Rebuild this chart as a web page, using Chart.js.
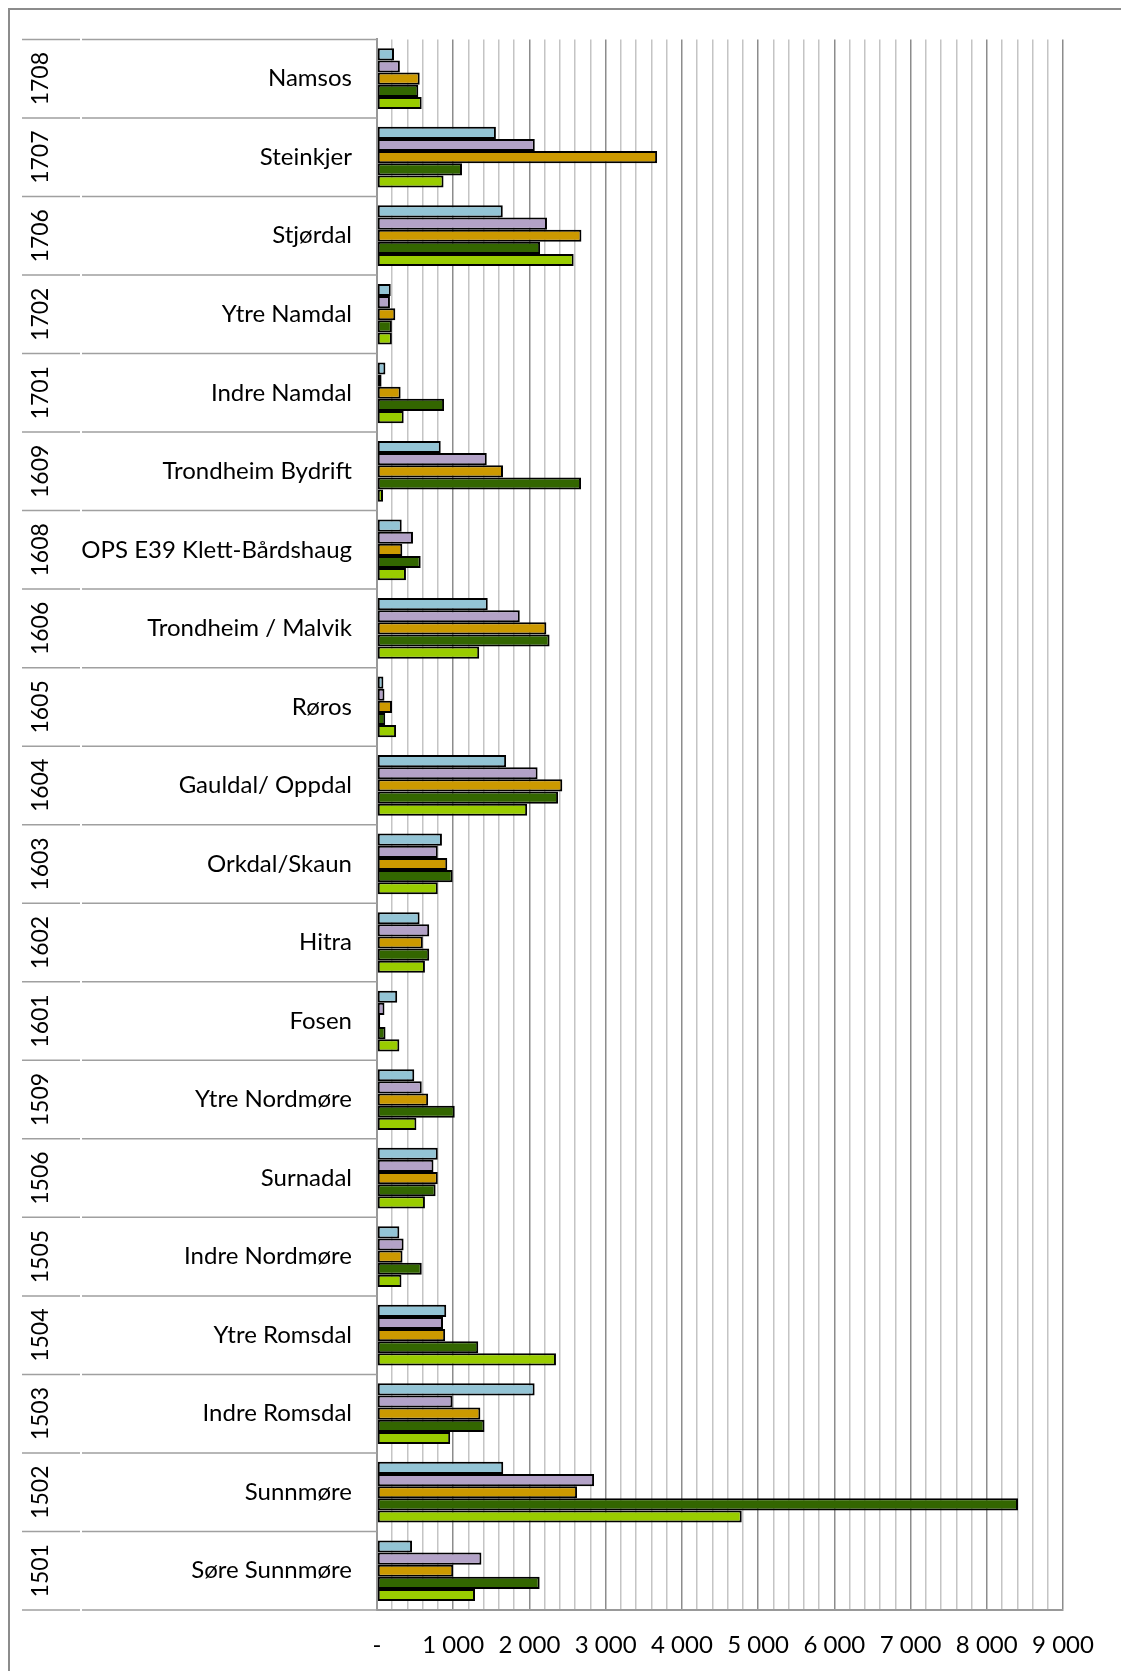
<!DOCTYPE html>
<html>
<head>
<meta charset="utf-8">
<script src="https://cdn.jsdelivr.net/npm/chart.js@4.4.1/dist/chart.umd.min.js"></script>
<style>
  html,body{margin:0;padding:0;background:#fff}
  canvas{display:block}
</style>
</head>
<body>
<canvas id="chart" width="1121" height="1671"></canvas>
<script>
// categories, top to bottom
const codes = ["1708","1707","1706","1702","1701","1609","1608","1606","1605","1604",
               "1603","1602","1601","1509","1506","1505","1504","1503","1502","1501"];
const names = ["Namsos","Steinkjer","Stjørdal","Ytre Namdal","Indre Namdal","Trondheim Bydrift",
               "OPS E39 Klett-Bårdshaug","Trondheim / Malvik","Røros","Gauldal/ Oppdal",
               "Orkdal/Skaun","Hitra","Fosen","Ytre Nordmøre","Surnadal","Indre Nordmøre",
               "Ytre Romsdal","Indre Romsdal","Sunnmøre","Søre Sunnmøre"];

// series values
const serie1 = [223,1560,1650,180,110,836,324,1453,84,1694,852,559,265,489,797,293,908,2068,1656,460];
const serie2 = [300,2070,2230,170,60,1440,472,1873,98,2107,797,685,98,587,741,349,866,990,2848,1370];
const serie3 = [560,3675,2682,240,310,1653,332,2222,197,2431,922,601,42,671,797,335,894,1356,2625,1000];
const serie4 = [542,1115,2140,195,880,2677,573,2264,108,2376,992,685,112,1020,769,587,1328,1410,8410,2134];
const serie5 = [586,873,2580,195,350,79,380,1341,250,1970,797,629,293,517,629,321,2348,960,4785,1286];

const colors = ["#93c4d5","#b3a2c7","#cc9900","#336600","#99cc00"];
const seriesData = [serie1,serie2,serie3,serie4,serie5];

function fmt(v){
  if(v===0) return "-";
  if(v%1000!==0) return "";
  return (v/1000)+" 000";
}

const labelArea = {
  id:"labelArea",
  beforeDraw(c){
    const ctx=c.ctx;
    ctx.save();
    ctx.fillStyle="#fff";
    ctx.fillRect(0,0,c.width,c.height);
    ctx.strokeStyle="#8c8c8c";
    ctx.lineWidth=2;
    ctx.beginPath();
    ctx.moveTo(9,c.height);
    ctx.lineTo(9,9);
    ctx.lineTo(c.width,9);
    ctx.stroke();
    ctx.restore();
  },
  afterDraw(c){
    const y=c.scales.y, a=c.chartArea, ctx=c.ctx;
    const n=codes.length;
    ctx.save();
    ctx.strokeStyle="#a0a0a0";
    ctx.lineWidth=1.5;
    for(let i=0;i<=n;i++){
      let yy;
      if(i===0) yy=a.top;
      else if(i===n) yy=a.bottom;
      else yy=(y.getPixelForTick(i-1)+y.getPixelForTick(i))/2;
      ctx.beginPath();
      ctx.moveTo(22,yy); ctx.lineTo(80,yy);
      ctx.moveTo(82,yy); ctx.lineTo(a.left,yy);
      ctx.stroke();
    }
    ctx.fillStyle="#000";
    ctx.font="23px Lato";
    ctx.textAlign="center";
    ctx.textBaseline="middle";
    codes.forEach((code,i)=>{
      ctx.save();
      ctx.translate(41,y.getPixelForTick(i));
      ctx.rotate(-Math.PI/2);
      ctx.fillText(code,0,0);
      ctx.restore();
    });
    ctx.restore();
  }
};

Chart.defaults.font.family="Lato";
Chart.defaults.font.size=24;
Chart.defaults.color="#000";

new Chart(document.getElementById("chart"),{
  type:"bar",
  data:{
    labels:names,
    datasets:seriesData.map((d,i)=>({
      label:"Serie "+(i+1),
      data:d,
      backgroundColor:colors[i],
      borderColor:"#000",
      borderWidth:2,
      borderSkipped:false,
      barPercentage:1,
      categoryPercentage:0.773
    }))
  },
  options:{
    indexAxis:"y",
    responsive:false,
    animation:false,
    layout:{ padding:{ left:22, right:58, top:38, bottom:0 } },
    plugins:{ legend:{ display:false }, tooltip:{ enabled:false } },
    scales:{
      x:{
        min:0, max:9000,
        afterFit:s=>{ s.height=61; },
        grid:{
          drawTicks:false,
          lineWidth:1.5,
          color:ctx=>(ctx.tick && ctx.tick.value%1000===0) ? "#8c8c8c" : "#c4c4c4"
        },
        border:{ color:"#999", width:2 },
        ticks:{
          stepSize:200,
          autoSkip:false,
          maxRotation:0,
          padding:21,
          callback:v=>fmt(v)
        }
      },
      y:{
        afterFit:s=>{ s.width=355; },
        grid:{ display:false, drawTicks:false },
        border:{ color:"#999", width:2 },
        ticks:{ padding:25, autoSkip:false }
      }
    }
  },
  plugins:[labelArea]
});
</script>
</body>
</html>
